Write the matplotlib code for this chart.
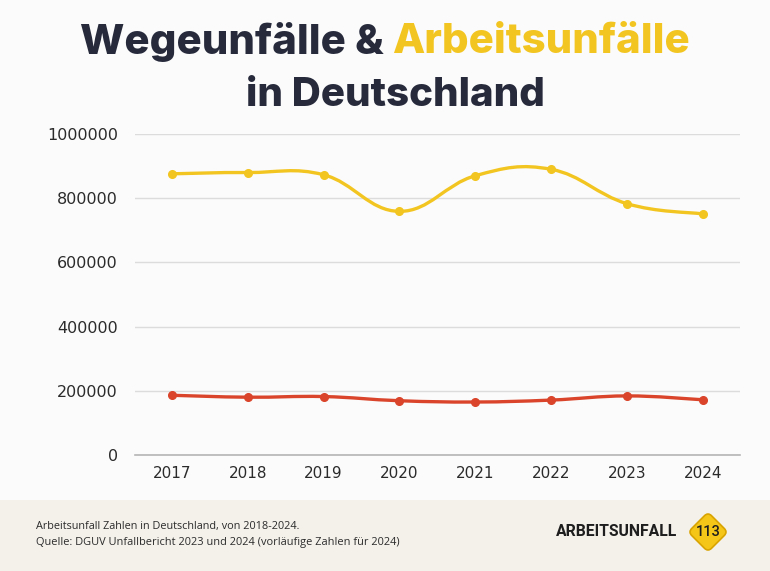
import numpy as np
import matplotlib
matplotlib.use("Agg")
from matplotlib import pyplot as plt
from matplotlib.path import Path
from matplotlib.patches import PathPatch, Rectangle, FancyBboxPatch
import matplotlib.transforms as mtransforms

years = ["2017", "2018", "2019", "2020", "2021", "2022", "2023", "2024"]
arbeitsunfaelle = [876000, 880000, 873000, 759000, 870000, 890000, 783000, 751000]
wegeunfaelle = [186000, 180000, 182000, 169000, 165000, 171000, 184000, 172000]
y_ticks = [0, 200000, 400000, 600000, 800000, 1000000]

yellow = "#F3C520"
red = "#D9442A"
navy = "#262a3b"


def smooth_path(xs, ys, tension=0.4):
    # chart.js-like bezier smoothing through the data points
    pts = np.column_stack([xs, ys]).astype(float)
    n = len(pts)
    verts = [pts[0]]
    codes = [Path.MOVETO]
    for i in range(n - 1):
        p0 = pts[max(i - 1, 0)]
        p1 = pts[i]
        p2 = pts[i + 1]
        p3 = pts[min(i + 2, n - 1)]
        c1 = p1 + (p2 - p0) * tension / 2
        c2 = p2 - (p3 - p1) * tension / 2
        verts += [c1, c2, p2]
        codes += [Path.CURVE4] * 3
    return Path(verts, codes)


fig = plt.figure(figsize=(7.7, 5.71), dpi=100, facecolor="#fbfbfb")
fig.patches.append(Rectangle((0, 0), 1, 71 / 571, transform=fig.transFigure,
                             facecolor="#f4f1eb", edgecolor="none", zorder=0))

ax = fig.add_axes([0.175, 0.2032, 0.786, 0.5621])
ax.set_facecolor("#fbfbfb")
x = np.arange(len(years))

for vals, col in [(arbeitsunfaelle, yellow), (wegeunfaelle, red)]:
    ax.add_patch(PathPatch(smooth_path(x, vals), facecolor="none", edgecolor=col,
                           linewidth=2.4, capstyle="round", zorder=3))
    ax.plot(x, vals, linestyle="none", marker="o", markersize=5.5, color=col, zorder=4)

ax.set_xlim(-0.49, 7.49)
ax.set_ylim(0, 1000000)
ax.set_xticks(x)
ax.set_xticklabels(years)
ax.set_yticks(y_ticks)
ax.set_yticklabels([str(v) for v in y_ticks])
ax.grid(True, axis="y", color="#dcdcdc", linewidth=1)
for s in ["top", "right", "left"]:
    ax.spines[s].set_visible(False)
ax.spines["bottom"].set_color("#b5b5b5")
ax.spines["bottom"].set_linewidth(1.2)
ax.tick_params(axis="both", length=0, colors="#2b2b2b")
ax.tick_params(axis="y", pad=12, labelsize=11.5)
ax.tick_params(axis="x", pad=8, labelsize=11)
for lab in ax.get_xticklabels() + ax.get_yticklabels():
    lab.set_family("DejaVu Sans")

# title
title_kw = dict(fontweight="heavy", family="Inter", va="center")
t1 = fig.text(0.5, 1 - 42 / 571, "Wegeunfälle & ", color=navy, ha="right", fontsize=30.2, **title_kw)
fig.canvas.draw()
r = fig.canvas.get_renderer()
w1 = t1.get_window_extent(r).width
t2 = fig.text(0.5, 1 - 42 / 571, "Arbeitsunfälle", color=yellow, ha="left", fontsize=30.2, **title_kw)
w2 = t2.get_window_extent(r).width
shift = (w1 - w2) / 2 / fig.bbox.width
t1.set_x(0.5 + shift)
t2.set_x(0.5 + shift)
fig.text(395 / 770, 1 - 95 / 571, "in Deutschland", color=navy, ha="center", fontsize=29, **title_kw)

# footer
fig.text(36 / 770, 1 - 526 / 571, "Arbeitsunfall Zahlen in Deutschland, von 2018-2024.",
         fontsize=7.8, family="Open Sans", color="#2b2b2b", va="center")
fig.text(36 / 770, 1 - 543 / 571,
         "Quelle: DGUV Unfallbericht 2023 und 2024 (vorläufige Zahlen für 2024)",
         fontsize=7.9, family="Open Sans", color="#2b2b2b", va="center")
fig.text(677 / 770, 1 - 532 / 571, "ARBEITSUNFALL", fontsize=11.3, fontweight="bold",
         family="Roboto", color="#1e1e1e", ha="right", va="center")

# logo diamond
cx, cy, half = 708, 571 - 532, 14
tr = mtransforms.Affine2D().rotate_deg_around(cx, cy, 45) + mtransforms.Affine2D().scale(1 / 770, 1 / 571) + fig.transFigure
diamond = FancyBboxPatch((cx - half, cy - half), 2 * half, 2 * half,
                         boxstyle="round,pad=0,rounding_size=5", transform=tr,
                         facecolor="#F5C518", edgecolor="#d9a400", linewidth=1.2, zorder=2)
fig.patches.append(diamond)
fig.text(cx / 770, cy / 571, "113", fontsize=10.5, family="Roboto", fontweight="medium",
         color="#1e1e1e", ha="center", va="center", zorder=3)

fig.savefig("out.png", dpi=100, facecolor=fig.get_facecolor())
